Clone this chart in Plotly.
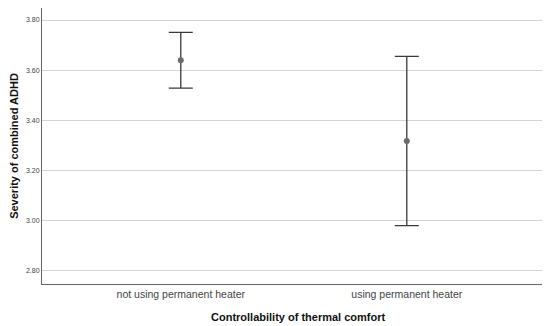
import plotly.graph_objects as go

categories = ["not using permanent heater", "using permanent heater"]
means = [3.639, 3.317]
upper = [3.751, 3.655]
lower = [3.528, 2.979]
ytick_vals = [2.80, 3.00, 3.20, 3.40, 3.60, 3.80]
ytick_text = ["2.80", "3.00", "3.20", "3.40", "3.60", "3.80"]
x_title = "Controllability of thermal comfort"
y_title = "Severity of combined ADHD"

xpos = list(range(len(categories)))
err_plus = [u - m for u, m in zip(upper, means)]
err_minus = [m - l for m, l in zip(means, lower)]

fig = go.Figure()
fig.add_trace(go.Scatter(
    x=xpos, y=means, mode="markers",
    marker=dict(color="#6b6b6b", size=6),
    error_y=dict(type="data", symmetric=False, array=err_plus, arrayminus=err_minus,
                 color="#3a3a3a", thickness=1.3, width=12),
    showlegend=False, hoverinfo="skip",
))

fig.add_annotation(
    text="<b>" + x_title + "</b>", xref="paper", yref="paper", x=0.51, y=0,
    yshift=-33, xanchor="center", yanchor="middle", showarrow=False,
    font=dict(size=11, color="#111"),
)

# page body has an 8px margin, so the figure is sized/offset accordingly
fig.update_layout(
    width=542, height=318,
    margin=dict(l=34, r=6, t=0, b=42, autoexpand=False),
    paper_bgcolor="white", plot_bgcolor="white",
    font=dict(family="Liberation Sans, Arial, sans-serif", color="#222"),
    xaxis=dict(
        range=[-0.614, 1.607], tickvals=xpos, ticktext=categories,
        showgrid=False, zeroline=False, showline=True, linecolor="#666", linewidth=1,
        ticks="", tickfont=dict(size=10.5, color="#444"), automargin=False,
    ),
    yaxis=dict(
        range=[2.746, 3.848], tickvals=ytick_vals, ticktext=ytick_text,
        showgrid=True, gridcolor="#d4d4d4", gridwidth=1, zeroline=False,
        showline=True, linecolor="#666", linewidth=1, ticks="",
        tickfont=dict(size=7, color="#444"), automargin=False,
        title=dict(text="<b>" + y_title + "</b>", font=dict(size=11, color="#111"), standoff=8),
    ),
)

fig.write_html("out.html")
